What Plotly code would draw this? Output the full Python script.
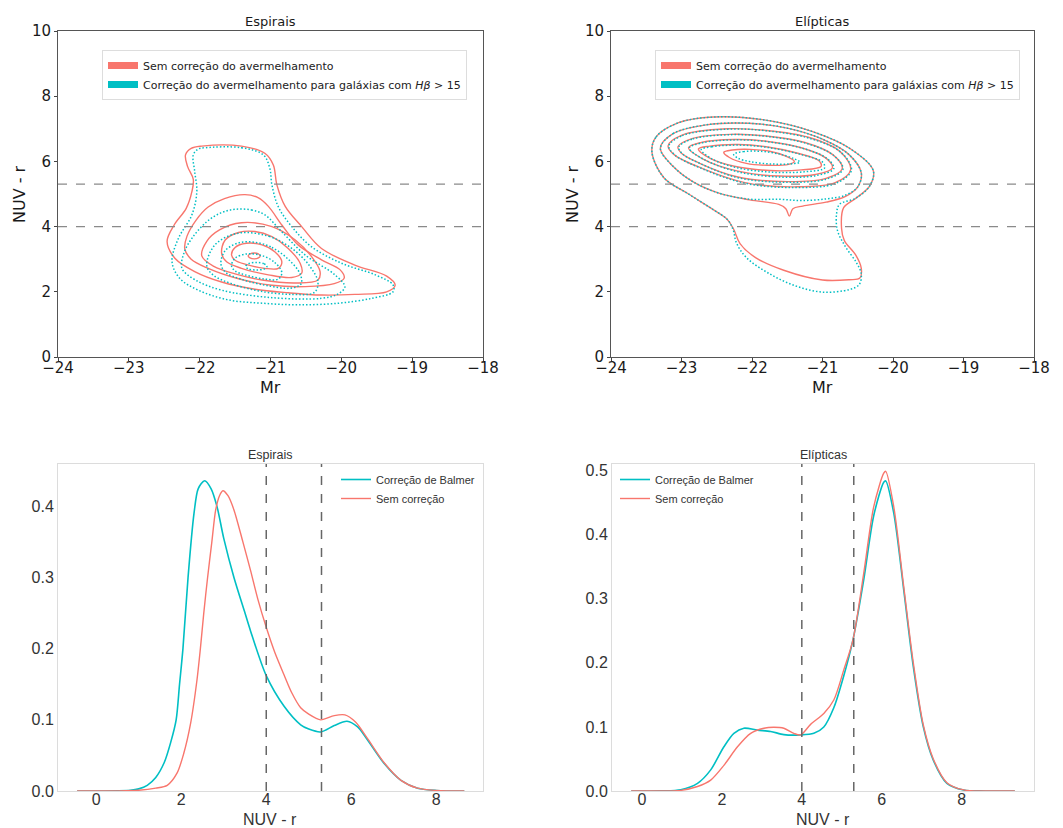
import plotly.graph_objects as go

# ---------------- colours ----------------
RED = "#F8766D"
CYAN = "#00BFC4"

# ---------------- axes / reference values ----------------
MR_TICKS = [-24, -23, -22, -21, -20, -19, -18]
NUV_TICKS = [0, 2, 4, 6, 8, 10]
KDE_X_TICKS = [0, 2, 4, 6, 8]
THRESHOLDS = [4.0, 5.3]

LEG_SEM_2D = "Sem correção do avermelhamento"
LEG_COR_2D = "Correção do avermelhamento para galáxias com <i>Hβ</i> > 15"
LEG_COR_1D = "Correção de Balmer"
LEG_SEM_1D = "Sem correção"

# ---------------- Espirais: 2-D density contours (Mr, NUV-r) ----------------
# red solid: without reddening correction
ESP_SEM_1 = [(-21.97, 6.47), (-21.41, 6.47), (-21.08, 6.25), (-20.96, 5.89), (-20.91, 5.28),
             (-20.79, 4.61), (-20.56, 4.00), (-20.28, 3.33), (-19.81, 2.82), (-19.36, 2.48),
             (-19.24, 2.20), (-19.36, 2.00), (-19.81, 1.92), (-20.28, 1.90), (-20.75, 1.97),
             (-21.22, 2.08), (-21.69, 2.30), (-22.07, 2.62), (-22.35, 3.03), (-22.46, 3.54),
             (-22.36, 4.05), (-22.19, 4.56), (-22.11, 5.07), (-22.09, 5.45), (-22.17, 5.84),
             (-22.20, 6.20), (-22.12, 6.40)]
ESP_SEM_2 = [(-21.36, 4.98), (-21.17, 4.88), (-21.03, 4.62), (-20.84, 4.05), (-20.61, 3.44),
             (-20.28, 2.98), (-20.02, 2.68), (-19.96, 2.42), (-20.10, 2.25), (-20.51, 2.16),
             (-20.98, 2.20), (-21.45, 2.40), (-21.88, 2.72), (-22.12, 3.00), (-22.21, 3.32),
             (-22.18, 3.70), (-22.05, 4.20), (-21.88, 4.60), (-21.65, 4.86)]
ESP_SEM_3 = [(-21.41, 4.12), (-20.98, 4.00), (-20.65, 3.59), (-20.42, 3.08), (-20.30, 2.62),
             (-20.33, 2.36), (-20.65, 2.27), (-21.12, 2.36), (-21.50, 2.55), (-21.80, 2.78),
             (-21.97, 3.10), (-21.90, 3.55), (-21.72, 3.90)]
ESP_SEM_4 = [(-21.22, 3.85), (-20.98, 3.69), (-20.75, 3.33), (-20.58, 2.87), (-20.56, 2.57),
             (-20.70, 2.44), (-21.03, 2.52), (-21.41, 2.72), (-21.62, 2.92), (-21.69, 3.18),
             (-21.64, 3.59), (-21.45, 3.82)]
ESP_SEM_5 = [(-21.12, 3.44), (-20.94, 3.23), (-20.84, 2.92), (-20.89, 2.72), (-21.08, 2.72),
             (-21.36, 2.85), (-21.50, 2.97), (-21.55, 3.13), (-21.50, 3.36), (-21.34, 3.49)]
ESP_SEM_6 = [(-21.23, 3.19), (-21.17, 3.16), (-21.145, 3.10), (-21.17, 3.04), (-21.23, 3.01),
             (-21.29, 3.04), (-21.315, 3.10), (-21.29, 3.16)]

# cyan dotted: reddening corrected (Hβ > 15)
ESP_COR_1 = [(-21.92, 6.42), (-21.41, 6.42), (-21.10, 6.20), (-21.01, 5.79), (-20.98, 5.28),
             (-20.89, 4.61), (-20.70, 4.00), (-20.42, 3.38), (-19.99, 2.87), (-19.52, 2.52),
             (-19.27, 2.21), (-19.27, 2.00), (-19.57, 1.80), (-20.04, 1.65), (-20.61, 1.60),
             (-21.12, 1.65), (-21.59, 1.75), (-22.02, 2.05), (-22.28, 2.41), (-22.39, 2.92),
             (-22.30, 3.64), (-22.11, 4.36), (-22.04, 5.07), (-22.07, 5.69), (-22.09, 6.20),
             (-22.02, 6.38)]
ESP_COR_2 = [(-21.50, 4.53), (-21.27, 4.51), (-21.08, 4.36), (-20.84, 3.84), (-20.51, 3.13),
             (-20.09, 2.52), (-19.95, 2.15), (-20.05, 1.93), (-20.28, 1.80), (-20.98, 1.82),
             (-21.69, 2.05), (-22.05, 2.35), (-22.25, 2.72), (-22.22, 3.20), (-22.11, 3.64),
             (-21.90, 4.15), (-21.70, 4.42)]
ESP_COR_3 = [(-21.45, 3.80), (-21.02, 3.70), (-20.68, 3.30), (-20.45, 2.80), (-20.33, 2.30),
             (-20.38, 1.98), (-20.70, 1.92), (-21.15, 2.02), (-21.55, 2.25), (-21.80, 2.50),
             (-21.90, 2.80), (-21.78, 3.45)]
ESP_COR_4 = [(-21.22, 3.52), (-20.98, 3.36), (-20.75, 3.00), (-20.58, 2.54), (-20.57, 2.24),
             (-20.72, 2.11), (-21.05, 2.19), (-21.42, 2.39), (-21.63, 2.59), (-21.70, 2.85),
             (-21.64, 3.26), (-21.45, 3.50)]
ESP_COR_5 = [(-21.12, 3.11), (-20.94, 2.90), (-20.84, 2.59), (-20.89, 2.39), (-21.08, 2.39),
             (-21.36, 2.52), (-21.50, 2.64), (-21.55, 2.80), (-21.50, 3.03), (-21.34, 3.16)]
ESP_COR_6 = [(-21.20, 2.90), (-21.09, 2.86), (-21.05, 2.78), (-21.09, 2.70), (-21.20, 2.67),
             (-21.31, 2.70), (-21.35, 2.78), (-21.31, 2.86)]

# ---------------- Elípticas: 2-D density contours ----------------
ELI_SEM_1 = [(-23.42, 6.30), (-23.36, 6.75), (-23.05, 7.18), (-22.55, 7.36), (-21.85, 7.28),
             (-21.15, 6.92), (-20.60, 6.38), (-20.28, 5.72), (-20.33, 5.25), (-20.52, 4.88),
             (-20.70, 4.58), (-20.73, 3.95), (-20.69, 3.57), (-20.53, 3.13), (-20.45, 2.72),
             (-20.47, 2.42), (-20.62, 2.37), (-21.00, 2.36), (-21.55, 2.66), (-21.95, 3.05),
             (-22.17, 3.48), (-22.26, 3.92), (-22.35, 4.22), (-22.55, 4.52), (-22.90, 5.00),
             (-23.25, 5.50)]
ELI_SEM_2 = [(-23.30, 6.40), (-23.12, 6.85), (-22.65, 7.12), (-22.05, 7.17), (-21.50, 7.02),
             (-21.00, 6.68), (-20.62, 6.20), (-20.45, 5.65), (-20.50, 5.22), (-20.68, 4.92),
             (-20.95, 4.75), (-21.28, 4.63), (-21.42, 4.55), (-21.47, 4.32), (-21.52, 4.55),
             (-21.62, 4.68), (-22.03, 4.82), (-22.46, 5.02), (-22.84, 5.38), (-23.12, 5.85)]
ELI_SEM_3 = [(-23.19, 6.48), (-23.00, 6.80), (-22.35, 7.00), (-21.80, 6.95), (-21.20, 6.74),
             (-20.75, 6.30), (-20.60, 5.75), (-20.82, 5.35), (-21.40, 5.22), (-22.10, 5.35),
             (-22.70, 5.78), (-23.10, 6.20)]
ELI_SEM_4 = [(-23.05, 6.45), (-22.85, 6.70), (-22.30, 6.83), (-21.80, 6.78), (-21.25, 6.58),
             (-20.85, 6.20), (-20.72, 5.78), (-20.95, 5.48), (-21.50, 5.38), (-22.20, 5.52),
             (-22.75, 5.95), (-23.00, 6.25)]
ELI_SEM_5 = [(-22.90, 6.42), (-22.72, 6.58), (-22.25, 6.67), (-21.80, 6.62), (-21.30, 6.42),
             (-20.95, 6.10), (-20.86, 5.80), (-21.10, 5.60), (-21.60, 5.55), (-22.20, 5.70),
             (-22.70, 6.08)]
ELI_SEM_6 = [(-22.76, 6.38), (-22.60, 6.47), (-22.20, 6.52), (-21.80, 6.45), (-21.35, 6.25),
             (-21.05, 6.02), (-21.02, 5.85), (-21.30, 5.74), (-21.75, 5.72), (-22.25, 5.85),
             (-22.60, 6.10)]
ELI_SEM_7 = [(-22.40, 6.28), (-22.28, 6.35), (-22.03, 6.37), (-21.75, 6.31), (-21.52, 6.16),
             (-21.40, 6.00), (-21.48, 5.91), (-21.78, 5.88), (-22.08, 5.94), (-22.32, 6.12)]

ELI_COR_1 = [(-23.42, 6.30), (-23.36, 6.75), (-23.05, 7.18), (-22.55, 7.36), (-21.85, 7.28),
             (-21.15, 6.92), (-20.60, 6.38), (-20.28, 5.72), (-20.33, 5.25), (-20.52, 4.88),
             (-20.76, 4.68), (-20.80, 4.40), (-20.79, 3.90), (-20.68, 3.40), (-20.52, 2.90),
             (-20.45, 2.55), (-20.48, 2.22), (-20.62, 2.07), (-21.00, 1.99), (-21.38, 2.18),
             (-21.75, 2.55), (-22.08, 3.05), (-22.22, 3.50), (-22.27, 3.92), (-22.35, 4.22),
             (-22.55, 4.52), (-22.90, 5.00), (-23.25, 5.50)]
ELI_COR_2 = [(-23.30, 6.40), (-23.12, 6.85), (-22.65, 7.12), (-22.05, 7.17), (-21.50, 7.02),
             (-21.00, 6.68), (-20.62, 6.20), (-20.45, 5.65), (-20.50, 5.22), (-20.68, 4.96),
             (-20.95, 4.85), (-21.30, 4.80), (-21.62, 4.84), (-22.03, 4.84), (-22.46, 5.02),
             (-22.84, 5.38), (-23.12, 5.85)]
ELI_COR_3 = [(-23.18, 6.47), (-22.99, 6.79), (-22.35, 6.99), (-21.80, 6.94), (-21.20, 6.72),
             (-20.74, 6.28), (-20.59, 5.73), (-20.82, 5.32), (-21.40, 5.20), (-22.10, 5.33),
             (-22.70, 5.77), (-23.09, 6.19)]
ELI_COR_4 = [(-23.04, 6.44), (-22.84, 6.69), (-22.30, 6.82), (-21.80, 6.77), (-21.24, 6.56),
             (-20.84, 6.18), (-20.71, 5.76), (-20.94, 5.46), (-21.50, 5.36), (-22.20, 5.50),
             (-22.74, 5.94), (-22.99, 6.24)]
ELI_COR_5 = [(-22.89, 6.41), (-22.71, 6.57), (-22.25, 6.66), (-21.80, 6.61), (-21.28, 6.40),
             (-20.93, 6.08), (-20.84, 5.78), (-21.08, 5.57), (-21.60, 5.52), (-22.20, 5.68),
             (-22.69, 6.07)]
ELI_COR_6 = [(-22.72, 6.36), (-22.57, 6.45), (-22.18, 6.50), (-21.78, 6.43), (-21.32, 6.22),
             (-21.00, 5.98), (-20.97, 5.80), (-21.26, 5.68), (-21.73, 5.67), (-22.22, 5.81),
             (-22.57, 6.08)]
ELI_COR_7 = [(-22.26, 6.22), (-22.12, 6.30), (-21.88, 6.31), (-21.60, 6.22), (-21.40, 6.08),
             (-21.32, 5.98), (-21.42, 5.93), (-21.72, 5.92), (-22.02, 5.99), (-22.20, 6.10)]

ESP_SEM = [ESP_SEM_1, ESP_SEM_2, ESP_SEM_3, ESP_SEM_4, ESP_SEM_5, ESP_SEM_6]
ESP_COR = [ESP_COR_1, ESP_COR_2, ESP_COR_3, ESP_COR_4, ESP_COR_5, ESP_COR_6]
ELI_SEM = [ELI_SEM_1, ELI_SEM_2, ELI_SEM_3, ELI_SEM_4, ELI_SEM_5, ELI_SEM_6, ELI_SEM_7]
ELI_COR = [ELI_COR_1, ELI_COR_2, ELI_COR_3, ELI_COR_4, ELI_COR_5, ELI_COR_6, ELI_COR_7]

# ---------------- 1-D KDE of NUV - r ----------------
ESP_BAL_X = [-0.45, 0.0, 0.5, 0.8, 1.0, 1.2, 1.4, 1.6, 1.75, 1.88, 1.96, 2.04, 2.16, 2.3, 2.4,
             2.55, 2.7, 2.84, 3.0, 3.24, 3.5, 3.63, 4.0, 4.42, 4.81, 5.0, 5.28, 5.6, 5.9, 6.15,
             6.38, 6.77, 7.17, 7.56, 8.0, 8.66]
ESP_BAL_Y = [0.0, 0.0, 0.0003, 0.001, 0.003, 0.008, 0.019, 0.040, 0.068, 0.10, 0.15, 0.20, 0.30,
             0.39, 0.425, 0.436, 0.425, 0.40, 0.355, 0.30, 0.25, 0.225, 0.162, 0.119, 0.093,
             0.087, 0.083, 0.092, 0.098, 0.09, 0.072, 0.039, 0.015, 0.004, 0.0008, 0.0]
ESP_SEM_X = [-0.45, 0.5, 1.0, 1.4, 1.67, 1.9, 2.06, 2.22, 2.37, 2.45, 2.53, 2.62, 2.72, 2.81,
             2.9, 2.98, 3.1, 3.24, 3.45, 3.63, 3.8, 4.0, 4.2, 4.42, 4.6, 4.81, 5.0, 5.28, 5.6,
             5.85, 6.1, 6.38, 6.77, 7.17, 7.56, 8.0, 8.66]
ESP_SEM_Y = [0.0, 0.0001, 0.001, 0.004, 0.008, 0.025, 0.053, 0.095, 0.156, 0.20, 0.25, 0.30,
             0.35, 0.395, 0.415, 0.422, 0.415, 0.395, 0.35, 0.31, 0.27, 0.23, 0.195, 0.163,
             0.138, 0.117, 0.108, 0.10, 0.106, 0.107, 0.097, 0.074, 0.04, 0.015, 0.004, 0.0008,
             0.0]
ELI_BAL_X = [-0.27, 0.5, 0.97, 1.39, 1.72, 2.05, 2.3, 2.55, 2.89, 3.22, 3.55, 3.97, 4.3, 4.55,
             4.8, 5.05, 5.28, 5.55, 5.8, 6.05, 6.1, 6.3, 6.55, 6.79, 7.04, 7.29, 7.63, 8.05,
             8.6, 9.33]
ELI_BAL_Y = [0.0, 0.0002, 0.002, 0.012, 0.033, 0.069, 0.09, 0.098, 0.095, 0.093, 0.088, 0.0875,
             0.09, 0.10, 0.13, 0.18, 0.236, 0.33, 0.43, 0.482, 0.484, 0.434, 0.314, 0.194, 0.10,
             0.048, 0.012, 0.0016, 0.0001, 0.0]
ELI_SEM_X = [-0.27, 0.5, 0.97, 1.39, 1.72, 2.05, 2.39, 2.72, 3.05, 3.3, 3.55, 3.8, 3.97, 4.22,
             4.55, 4.8, 5.05, 5.28, 5.55, 5.8, 6.05, 6.1, 6.3, 6.55, 6.79, 7.04, 7.29, 7.63,
             8.05, 8.6, 9.33]
ELI_SEM_Y = [0.0, 0.0001, 0.001, 0.007, 0.017, 0.04, 0.069, 0.09, 0.098, 0.0995, 0.098, 0.09,
             0.0875, 0.104, 0.121, 0.142, 0.189, 0.236, 0.34, 0.444, 0.496, 0.499, 0.444, 0.319,
             0.20, 0.103, 0.05, 0.013, 0.0017, 0.0001, 0.0]

W, H = 1063, 828


def px_x(p):
    return p / W


def px_y(p):
    return 1 - p / H


fig = go.Figure()


def add_loop(pts, color, dash, xa, ya, width):
    xs = [p[0] for p in pts] + [pts[0][0]]
    ys = [p[1] for p in pts] + [pts[0][1]]
    fig.add_trace(go.Scatter(
        x=xs, y=ys, mode="lines", xaxis=xa, yaxis=ya, showlegend=False, hoverinfo="skip",
        line=dict(color=color, width=width, dash=dash, shape="spline", smoothing=1.0)))


for loops_sem, loops_cor, xa, ya, leg in [(ESP_SEM, ESP_COR, "x", "y", "legend"),
                                          (ELI_SEM, ELI_COR, "x2", "y2", "legend2")]:
    for lp in loops_sem:
        add_loop(lp, RED, "solid", xa, ya, 1.4)
    for lp in loops_cor:
        add_loop(lp, CYAN, "1.5px,2px", xa, ya, 1.5)
    # legend patches
    fig.add_trace(go.Scatter(x=[None], y=[None], mode="lines", xaxis=xa, yaxis=ya,
                             name=LEG_SEM_2D, legend=leg, line=dict(color=RED, width=7)))
    fig.add_trace(go.Scatter(x=[None], y=[None], mode="lines", xaxis=xa, yaxis=ya,
                             name=LEG_COR_2D, legend=leg, line=dict(color=CYAN, width=7)))

for bx, by, sx, sy, xa, ya, leg in [(ESP_BAL_X, ESP_BAL_Y, ESP_SEM_X, ESP_SEM_Y, "x3", "y3", "legend3"),
                                    (ELI_BAL_X, ELI_BAL_Y, ELI_SEM_X, ELI_SEM_Y, "x4", "y4", "legend4")]:
    fig.add_trace(go.Scatter(x=bx, y=by, mode="lines", xaxis=xa, yaxis=ya, name=LEG_COR_1D,
                             legend=leg, line=dict(color=CYAN, width=1.6, shape="spline", smoothing=0.8)))
    fig.add_trace(go.Scatter(x=sx, y=sy, mode="lines", xaxis=xa, yaxis=ya, name=LEG_SEM_1D,
                             legend=leg, line=dict(color=RED, width=1.4, shape="spline", smoothing=0.8)))

# ---------------- threshold lines ----------------
shapes = []
for t in THRESHOLDS:
    for xa, ya in [("x", "y"), ("x2", "y2")]:
        shapes.append(dict(type="line", xref=xa + " domain", yref=ya, x0=0, x1=1, y0=t, y1=t,
                           line=dict(color="#8a8a8a", width=1.3, dash="dash")))
    for xa, ya in [("x3", "y3"), ("x4", "y4")]:
        shapes.append(dict(type="line", xref=xa, yref=ya + " domain", x0=t, x1=t, y0=0, y1=1,
                           line=dict(color="#666666", width=1.5, dash="dash")))

# ---------------- axes ----------------
DV = "DejaVu Sans"
LS = "Liberation Sans"

top_x = dict(range=[-24, -18], tickvals=MR_TICKS, ticks="outside", ticklen=3, tickwidth=1,
             tickcolor="#444", showline=True, linecolor="#555", linewidth=1, mirror=True,
             showgrid=False, zeroline=False, automargin=False, ticklabelstandoff=-6,
             tickfont=dict(family=DV, size=15, color="#1a1a1a"))
top_y = dict(range=[0, 10], tickvals=NUV_TICKS, ticks="outside", ticklen=3, tickwidth=1,
             tickcolor="#444", showline=True, linecolor="#555", linewidth=1, mirror=True,
             showgrid=False, zeroline=False, automargin=False,
             tickfont=dict(family=DV, size=15, color="#1a1a1a"))
bot_x = dict(tickvals=KDE_X_TICKS, ticks="", showline=True, linecolor="#dcdcdc", linewidth=1,
             mirror=True, showgrid=False, zeroline=False, automargin=False,
             ticklabelstandoff=-6,
             tickfont=dict(family=LS, size=16, color="#333333"))
bot_y = dict(ticks="", showline=True, linecolor="#dcdcdc", linewidth=1, mirror=True,
             showgrid=False, zeroline=False, tickformat=".1f", automargin=False,
             tickfont=dict(family=LS, size=16, color="#333333"))

TOP_DOM_Y = [px_y(357), px_y(31)]
BOT_DOM_Y = [px_y(791), px_y(464)]

fig.update_layout(
    template="none",
    width=W, height=828, autosize=False,
    margin=dict(l=0, r=0, t=0, b=0, pad=0),
    paper_bgcolor="white", plot_bgcolor="white",
    xaxis=dict(top_x, domain=[px_x(58), px_x(483)], anchor="y"),
    yaxis=dict(top_y, domain=TOP_DOM_Y, anchor="x"),
    xaxis2=dict(top_x, domain=[px_x(611), px_x(1034)], anchor="y2"),
    yaxis2=dict(top_y, domain=TOP_DOM_Y, anchor="x2"),
    xaxis3=dict(bot_x, range=[-0.9, 9.1], domain=[px_x(58), px_x(483)], anchor="y3"),
    yaxis3=dict(bot_y, range=[0, 0.4595], tickvals=[0, 0.1, 0.2, 0.3, 0.4],
                domain=BOT_DOM_Y, anchor="x3"),
    xaxis4=dict(bot_x, range=[-0.75, 9.81], domain=[px_x(612), px_x(1034)], anchor="y4"),
    yaxis4=dict(bot_y, range=[0, 0.5104], tickvals=[0, 0.1, 0.2, 0.3, 0.4, 0.5],
                domain=BOT_DOM_Y, anchor="x4"),
    shapes=shapes,
    legend=dict(x=px_x(102), y=px_y(50), xanchor="left", yanchor="top", bgcolor="white",
                bordercolor="#dddddd", borderwidth=1, itemwidth=30, tracegroupgap=0,
                font=dict(family=DV, size=11, color="#222222")),
    legend2=dict(x=px_x(655), y=px_y(50), xanchor="left", yanchor="top", bgcolor="white",
                 bordercolor="#dddddd", borderwidth=1, itemwidth=30, tracegroupgap=0,
                 font=dict(family=DV, size=11, color="#222222")),
    legend3=dict(x=px_x(336), y=px_y(465), xanchor="left", yanchor="top",
                 bgcolor="rgba(0,0,0,0)", borderwidth=0, itemwidth=30,
                 font=dict(family=LS, size=11, color="#333333")),
    legend4=dict(x=px_x(615), y=px_y(465), xanchor="left", yanchor="top",
                 bgcolor="rgba(0,0,0,0)", borderwidth=0, itemwidth=30,
                 font=dict(family=LS, size=11, color="#333333")),
)

# ---------------- titles & axis labels ----------------
ann = []


def label(text, x, y, family, size, color, angle=0):
    ann.append(dict(text=text, x=px_x(x), y=px_y(y), xref="paper", yref="paper",
                    xanchor="center", yanchor="middle", showarrow=False, textangle=angle,
                    font=dict(family=family, size=size, color=color)))


label("Espirais", 270, 21, DV, 13, "#1a1a1a")
label("Elípticas", 822, 21, DV, 13, "#1a1a1a")
label("Mr", 270, 387, DV, 16, "#1a1a1a")
label("Mr", 822, 387, DV, 16, "#1a1a1a")
label("NUV - r", 19, 194, DV, 16, "#1a1a1a", -90)
label("NUV - r", 572, 194, DV, 16, "#1a1a1a", -90)
label("Espirais", 270, 455, LS, 12.5, "#333333")
label("Elípticas", 823, 455, LS, 12.5, "#333333")
label("NUV - r", 270, 819, LS, 16, "#333333")
label("NUV - r", 823, 819, LS, 16, "#333333")
fig.update_layout(annotations=ann)

fig.write_html("out.html")
